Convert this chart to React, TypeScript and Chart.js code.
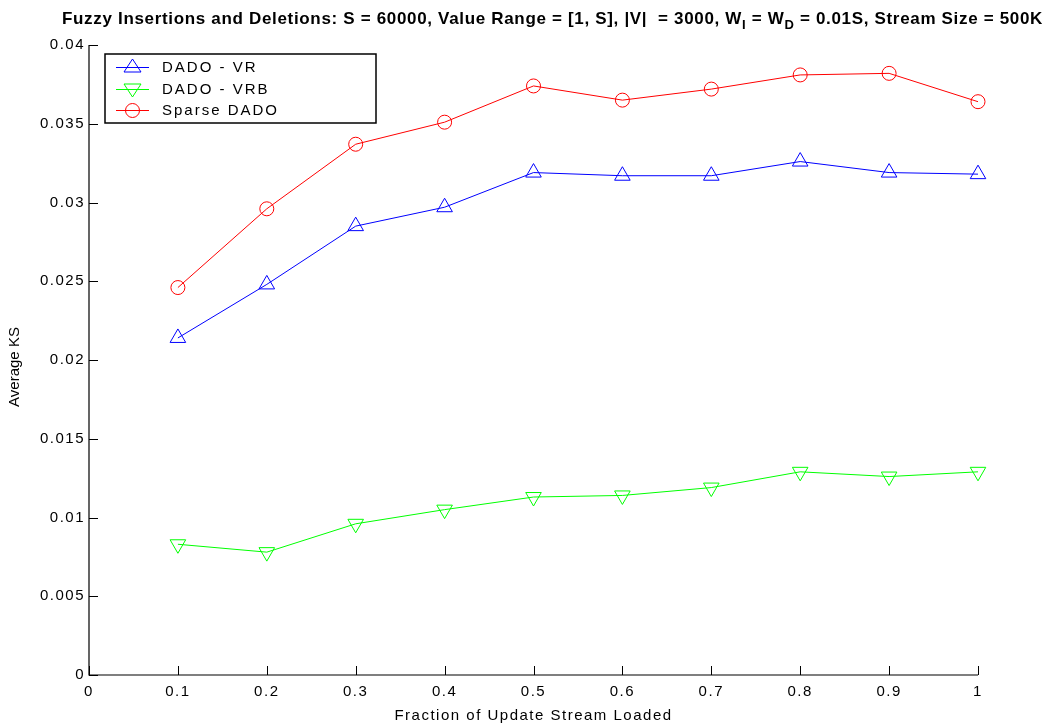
import React, { useEffect, useRef } from "react";
import { Chart, registerables } from "chart.js";
Chart.register(...registerables);

const xValues = [0.1, 0.2, 0.3, 0.4, 0.5, 0.6, 0.7, 0.8, 0.9, 1.0];
const dadoVR = [0.0214, 0.0248, 0.0285, 0.0297, 0.0319, 0.0317, 0.0317, 0.0326, 0.0319, 0.0318];
const dadoVRB = [0.0083, 0.0078, 0.0096, 0.0105, 0.0113, 0.0114, 0.0119, 0.0129, 0.0126, 0.0129];
const sparseDADO = [0.0246, 0.0296, 0.0337, 0.0351, 0.0374, 0.0365, 0.0372, 0.0381, 0.0382, 0.0364];
const seriesNames = ["DADO - VR", "DADO - VRB", "Sparse DADO"];
const xTitle = "Fraction of Update Stream Loaded";
const yTitle = "Average KS";
const titleParts: [string, boolean][] = [
  ["Fuzzy Insertions and Deletions: S = 60000, Value Range = [1, S], |V|  = 3000, W", false],
  ["I", true],
  [" = W", false],
  ["D", true],
  [" = 0.01S, Stream Size = 500K", false],
];

const REG = '"Liberation Sans", Arial, Helvetica, sans-serif';

const fmt = (v: number) => String(parseFloat(v.toFixed(4)));

const customPlugin = {
  id: "custom",
  beforeDraw(chart: any) {
    chart.ctx.letterSpacing = "1.5px";
  },
  afterDraw(chart: any) {
    const ctx = chart.ctx;
    const { left, right, top, bottom } = chart.chartArea;
    const xs = chart.scales.x;
    const ys = chart.scales.y;
    ctx.save();
    ctx.letterSpacing = "0px";
    // axes
    ctx.strokeStyle = "#000";
    ctx.lineWidth = 1.2;
    ctx.beginPath();
    ctx.moveTo(left, top);
    ctx.lineTo(left, bottom);
    ctx.lineTo(right, bottom);
    ctx.stroke();
    ctx.lineWidth = 1;
    ctx.beginPath();
    for (let i = 0; i <= 10; i++) {
      const px = Math.round(xs.getPixelForValue(i / 10)) + 0.5;
      ctx.moveTo(px, bottom);
      ctx.lineTo(px, bottom - 9);
    }
    for (let i = 0; i <= 8; i++) {
      const py = Math.round(ys.getPixelForValue(i * 0.005)) + 0.5;
      ctx.moveTo(left, py);
      ctx.lineTo(left + 9, py);
    }
    ctx.stroke();

    // y axis title
    ctx.save();
    ctx.translate(15, (top + bottom) / 2 + 7);
    ctx.rotate(-Math.PI / 2);
    ctx.font = `15px ${REG}`;
    ctx.fillStyle = "#000";
    ctx.textAlign = "center";
    ctx.textBaseline = "middle";
    ctx.fillText(yTitle, 0, 0);
    ctx.restore();

    // title with subscripts, fitted to the reference width
    const mainFont = `bold 17px ${REG}`;
    const subFont = `bold 13px ${REG}`;
    let total = 0;
    let nChars = 0;
    for (const [t, s] of titleParts) {
      ctx.font = s ? subFont : mainFont;
      total += ctx.measureText(t).width;
      nChars += t.length;
    }
    const targetW = 981;
    const sp = (targetW - total) / nChars;
    ctx.letterSpacing = `${sp}px`;
    let x = 62;
    ctx.fillStyle = "#000";
    ctx.textBaseline = "alphabetic";
    ctx.textAlign = "left";
    for (const [t, s] of titleParts) {
      ctx.font = s ? subFont : mainFont;
      ctx.fillText(t, x, s ? 29 : 24);
      x += ctx.measureText(t).width;
    }

    // legend
    ctx.letterSpacing = "0px";
    const lx = 105, ly = 54, lw = 271, lh = 69;
    ctx.fillStyle = "#fff";
    ctx.fillRect(lx, ly, lw, lh);
    ctx.strokeStyle = "#000";
    ctx.lineWidth = 1.5;
    ctx.strokeRect(lx, ly, lw, lh);
    const rows = [67, 89, 110];
    chart.data.datasets.forEach((ds: any, i: number) => {
      const y = rows[i];
      ctx.letterSpacing = "0px";
      ctx.strokeStyle = ds.borderColor;
      ctx.lineWidth = 1;
      ctx.beginPath();
      ctx.moveTo(116, y + 0.5);
      ctx.lineTo(149, y + 0.5);
      ctx.stroke();
      ctx.beginPath();
      if (ds.pointStyle === "circle") {
        ctx.arc(132.5, y + 0.5, 7, 0, Math.PI * 2);
      } else {
        const dir = ds.pointRotation === 180 ? 1 : -1;
        ctx.moveTo(124, y - dir * 5);
        ctx.lineTo(141, y - dir * 5);
        ctx.lineTo(132.5, y + dir * 8);
        ctx.closePath();
      }
      ctx.stroke();
      ctx.fillStyle = "#000";
      ctx.font = `15px ${REG}`;
      ctx.letterSpacing = "2px";
      ctx.textBaseline = "middle";
      ctx.fillText(ds.label, 162, y + 1);
    });
    ctx.restore();
  },
};

export default function App() {
  const ref = useRef<HTMLCanvasElement>(null);
  useEffect(() => {
    document.body.style.margin = "0";
    const mk = (vals: number[]) => vals.map((v, i) => ({ x: xValues[i], y: v }));
    const common = { backgroundColor: "rgba(0,0,0,0)", pointBorderWidth: 1, borderWidth: 1, clip: false as any };
    const chart = new Chart(ref.current!, {
      type: "line",
      data: {
        datasets: [
          { ...common, label: seriesNames[0], data: mk(dadoVR), borderColor: "#0000ff", pointStyle: "triangle", pointRadius: 9 },
          { ...common, label: seriesNames[1], data: mk(dadoVRB), borderColor: "#00ff00", pointStyle: "triangle", pointRotation: 180, pointRadius: 9 },
          { ...common, label: seriesNames[2], data: mk(sparseDADO), borderColor: "#ff0000", pointStyle: "circle", pointRadius: 7 },
        ],
      },
      options: {
        animation: false,
        responsive: false,
        layout: { padding: { left: 0, right: 74, top: 45, bottom: 0 } },
        plugins: { legend: { display: false }, title: { display: false }, tooltip: { enabled: false } },
        scales: {
          x: {
            type: "linear",
            min: 0,
            max: 1,
            border: { display: false },
            grid: { display: false, drawTicks: false },
            ticks: { stepSize: 0.1, padding: 8, color: "#000", font: { family: REG, size: 15 }, callback: (v: any) => fmt(Number(v)), maxRotation: 0, autoSkip: false },
            title: { display: true, text: xTitle, color: "#000", font: { family: REG, size: 15 }, padding: { top: 3, bottom: 0 } },
            afterFit: (s: any) => { s.height = 50; },
          },
          y: {
            min: 0,
            max: 0.04,
            border: { display: false },
            grid: { display: false, drawTicks: false },
            ticks: { stepSize: 0.005, padding: 4, color: "#000", font: { family: REG, size: 15 }, callback: (v: any) => fmt(Number(v)) },
            title: { display: false },
            afterFit: (s: any) => { s.width = 89; },
          },
        },
      },
      plugins: [customPlugin],
    });
    return () => chart.destroy();
  }, []);
  return (
    <div style={{ position: "absolute", left: 0, top: 0, width: 1052, height: 725, background: "#fff" }}>
      <canvas ref={ref} width={1052} height={725} style={{ width: 1052, height: 725 }} />
    </div>
  );
}
